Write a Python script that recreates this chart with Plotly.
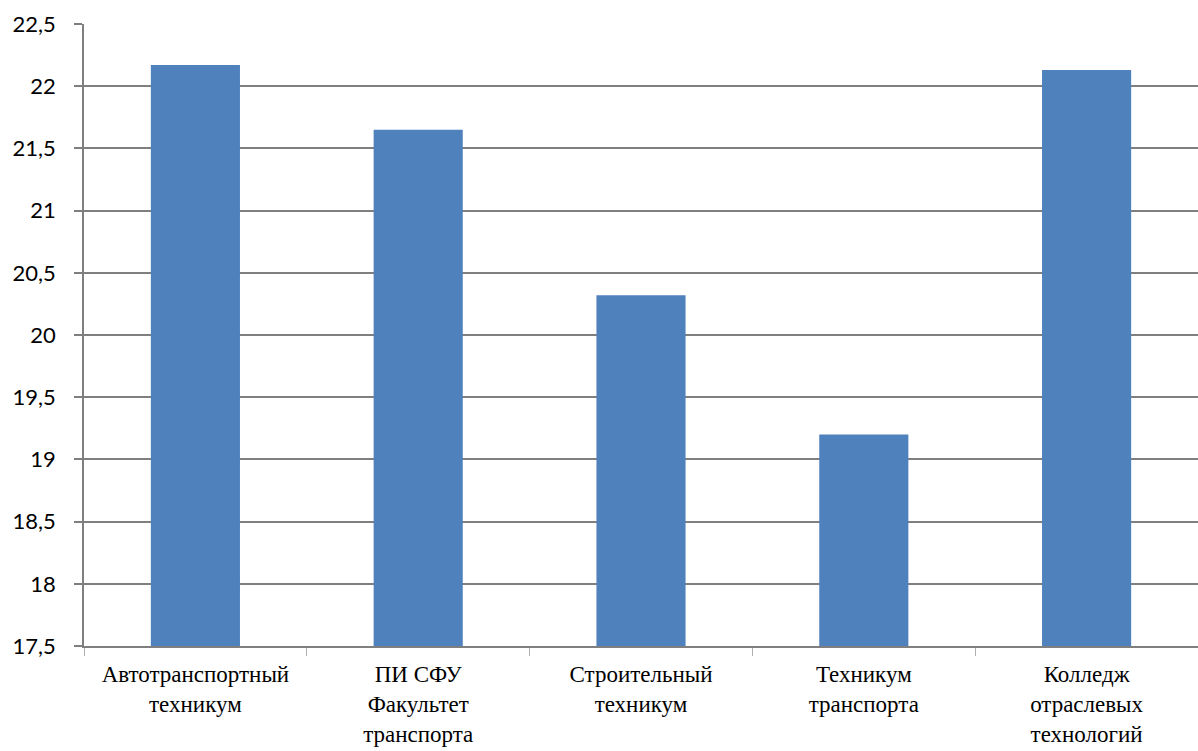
import plotly.graph_objects as go

categories = [
    "Автотранспортный<br>техникум",
    "ПИ СФУ<br>Факультет<br>транспорта",
    "Строительный<br>техникум",
    "Техникум<br>транспорта",
    "Колледж<br>отраслевых<br>технологий",
]
values = [22.17, 21.65, 20.32, 19.20, 22.13]
y_tickvals = [17.5, 18, 18.5, 19, 19.5, 20, 20.5, 21, 21.5, 22, 22.5]
y_ticktext = ["17,5", "18", "18,5", "19", "19,5", "20", "20,5", "21", "21,5", "22", "22,5"]

fig = go.Figure(go.Bar(x=categories, y=values, marker=dict(color="#4F81BD", line=dict(width=0))))

fig.update_layout(
    width=1198, height=751,
    margin=dict(l=84, r=0, t=24, b=105),
    paper_bgcolor="white", plot_bgcolor="white",
    bargap=0.6, showlegend=False,
    separators=", ",
)
fig.update_xaxes(
    showline=True, linecolor="#7f7f7f", linewidth=1.5,
    ticks="outside", tickson="boundaries", ticklen=8, tickcolor="#b0b0b0",
    tickfont=dict(family="'Liberation Serif', 'Times New Roman', serif", size=23, color="black"),
    ticklabelstandoff=7,
    showgrid=False,
)
fig.update_yaxes(
    range=[17.5, 22.5], tickvals=y_tickvals, ticktext=y_ticktext,
    showline=True, linecolor="#7f7f7f", linewidth=1.5,
    ticks="outside", ticklen=8, tickcolor="#7f7f7f", tickwidth=1.5,
    showgrid=True, gridcolor="#7f7f7f", gridwidth=1.5,
    tickfont=dict(family="Lato", size=22, color="black"),
    ticklabelstandoff=14, zeroline=False,
)
fig.write_html("out.html")
